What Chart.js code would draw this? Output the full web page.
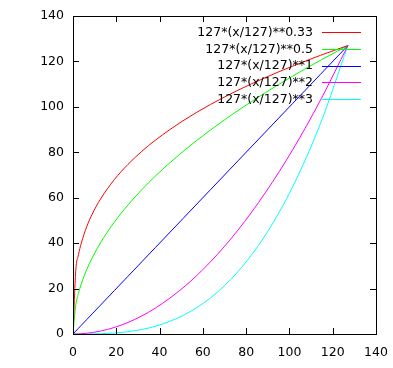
<!DOCTYPE html>
<html>
<head>
<meta charset="utf-8">
<script src="https://cdn.jsdelivr.net/npm/chart.js@4"></script>
<style>
  html, body { margin: 0; padding: 0; background: #fff; }
  #wrap { width: 393px; height: 368px; }
</style>
</head>
<body>
<div id="wrap"><canvas id="myChart" width="393" height="368"></canvas></div>
<script>
// sample positions along x (gnuplot samples, 0..127)
var xValues = [0, 1.27, 2.54, 3.81, 6.35, 8.89, 12.7, 19.05, 25.4, 31.75, 38.1, 50.8, 63.5, 76.2, 88.9, 101.6, 114.3, 127];

var labels = ["127*(x/127)**0.33", "127*(x/127)**0.5", "127*(x/127)**1", "127*(x/127)**2", "127*(x/127)**3"];
var colors = ["#ff0000", "#00ff00", "#0000ff", "#ff00ff", "#00ffff"];

var yPow033 = [0, 27.79, 34.93, 39.93, 47.26, 52.81, 59.40, 67.91, 74.68, 80.38, 85.36, 93.85, 101.04, 107.30, 112.90, 117.98, 122.66, 127];
var yPow05 = [0, 12.70, 17.96, 22.00, 28.40, 33.60, 40.16, 49.19, 56.80, 63.50, 69.56, 80.32, 89.80, 98.37, 106.26, 113.59, 120.48, 127];
var yPow1 = [0, 1.27, 2.54, 3.81, 6.35, 8.89, 12.7, 19.05, 25.4, 31.75, 38.1, 50.8, 63.5, 76.2, 88.9, 101.6, 114.3, 127];
var yPow2 = [0, 0.0127, 0.0508, 0.1143, 0.3175, 0.6223, 1.27, 2.8575, 5.08, 7.9375, 11.43, 20.32, 31.75, 45.72, 62.23, 81.28, 102.87, 127];
var yPow3 = [0, 0.0001, 0.001, 0.0034, 0.0159, 0.0436, 0.127, 0.4286, 1.016, 1.984, 3.429, 8.128, 15.875, 27.432, 43.561, 65.024, 92.583, 127];

var xTicks = [0, 20, 40, 60, 80, 100, 120, 140];
var yTicks = [0, 20, 40, 60, 80, 100, 120, 140];

var series = [yPow033, yPow05, yPow1, yPow2, yPow3];

function toPoints(ys) {
  return xValues.map(function (x, i) { return { x: x, y: ys[i] }; });
}

var datasets = series.map(function (ys, i) {
  return {
    label: labels[i],
    data: toPoints(ys),
    borderColor: colors[i],
    backgroundColor: colors[i],
    borderWidth: 1,
    pointRadius: 0,
    showLine: true,
    fill: false,
    cubicInterpolationMode: 'monotone'
  };
});

// frame, inward ticks on all four sides, and gnuplot style key
var framePlugin = {
  id: 'frame',
  afterDraw: function (chart) {
    var ctx = chart.ctx;
    var a = chart.chartArea;
    var xs = chart.scales.x, ys = chart.scales.y;
    var tl = 6;
    ctx.save();
    ctx.strokeStyle = '#000';
    ctx.lineWidth = 1;
    ctx.beginPath();
    xTicks.forEach(function (v) {
      var px = Math.round(xs.getPixelForValue(v)) + 0.5;
      ctx.moveTo(px, a.bottom); ctx.lineTo(px, a.bottom - tl);
      ctx.moveTo(px, a.top); ctx.lineTo(px, a.top + tl);
    });
    yTicks.forEach(function (v) {
      var py = Math.round(ys.getPixelForValue(v)) + 0.5;
      ctx.moveTo(a.left, py); ctx.lineTo(a.left + tl, py);
      ctx.moveTo(a.right, py); ctx.lineTo(a.right - tl, py);
    });
    ctx.stroke();
    ctx.strokeRect(Math.round(a.left) + 0.5, Math.round(a.top) + 0.5,
      Math.round(a.right - a.left), Math.round(a.bottom - a.top));

    // key
    ctx.font = '12.5px "DejaVu Sans"';
    ctx.textAlign = 'right';
    ctx.textBaseline = 'middle';
    chart.data.datasets.forEach(function (ds, i) {
      var y = 32 + i * 16.8;
      ctx.fillStyle = '#000';
      ctx.fillText(ds.label, 313, y + 0.5);
      ctx.strokeStyle = ds.borderColor;
      ctx.beginPath();
      ctx.moveTo(322, Math.round(y) + 0.5);
      ctx.lineTo(361, Math.round(y) + 0.5);
      ctx.stroke();
    });
    ctx.restore();
  }
};

new Chart(document.getElementById('myChart').getContext('2d'), {
  type: 'scatter',
  data: { datasets: datasets },
  options: {
    responsive: false,
    animation: false,
    layout: { padding: { left: 0, right: 17, top: 16, bottom: 0 } },
    scales: {
      x: {
        type: 'linear',
        min: 0,
        max: 140,
        afterFit: function (s) {
          s.height = 34;
          s.paddingLeft = 0;
          s.paddingRight = 0;
        },
        afterBuildTicks: function (s) { s.ticks = xTicks.map(function (v) { return { value: v }; }); },
        grid: { display: false, drawTicks: false },
        border: { display: false },
        ticks: { color: '#000', padding: 11, font: { family: 'DejaVu Sans', size: 12.5 }, maxRotation: 0 }
      },
      y: {
        type: 'linear',
        min: 0,
        max: 140,
        afterFit: function (s) {
          s.width = 73;
          s.paddingTop = 0;
          s.paddingBottom = 0;
        },
        afterBuildTicks: function (s) { s.ticks = yTicks.map(function (v) { return { value: v }; }); },
        grid: { display: false, drawTicks: false },
        border: { display: false },
        ticks: { color: '#000', padding: 9, font: { family: 'DejaVu Sans', size: 12.5 } }
      }
    },
    plugins: {
      legend: { display: false },
      tooltip: { enabled: false }
    }
  },
  plugins: [framePlugin]
});
</script>
</body>
</html>
